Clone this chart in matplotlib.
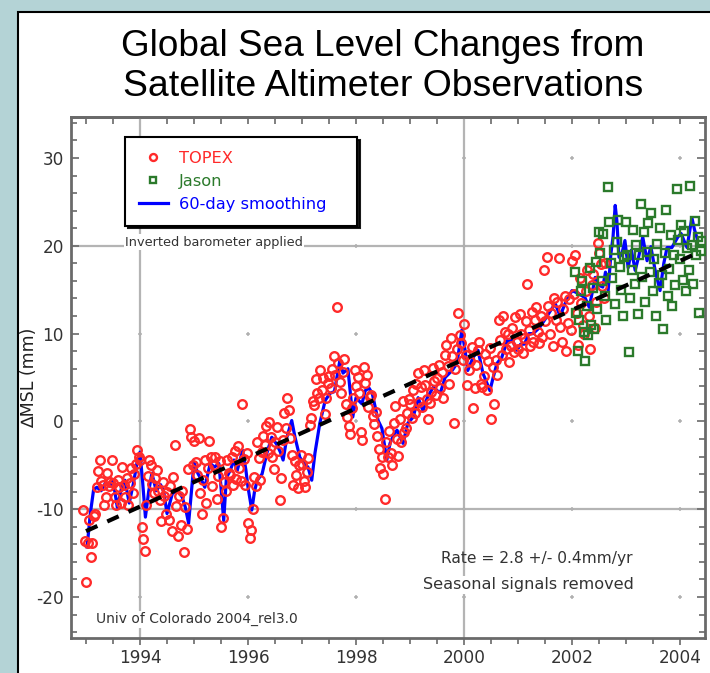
import numpy as np
import matplotlib
matplotlib.use('Agg')
import matplotlib.pyplot as plt
from matplotlib import font_manager
from matplotlib.lines import Line2D
from matplotlib.patches import Rectangle
from matplotlib.ticker import MultipleLocator

plt.rcParams['axes.unicode_minus'] = False

# sampling of the altimeter cycles (about 10 days, in years)
cycle_step = 0.5 / 18
topex_start = 1992.95
jason_start = 2002.05

# TOPEX cycle values (mm), half-year blocks
topex_mm = [
    -10.1, -13.6, -18.3, -13.9, -11.2, -15.5, -13.8, -10.8, -10.5, -7.5,
    -5.6, -4.4, -6.8, -7.2, -9.5, -8.6, -5.9, -7.4, -6.9, -4.4,
    -7.0, -8.6, -9.5, -6.7, -7.5, -9.3, -5.2, -7.3, -8.6, -6.5, -9.5, -7.0, -5.3, -8.1, -6.0, -4.8, -3.3, -4.0,
    -4.4, -12.0, -13.4, -14.8, -9.5, -6.2, -4.4, -5.0, -7.1, -8.2, -6.4, -5.5, -7.9, -9.0, -11.3, -6.9, -8.5, -10.5,
    -8.0, -11.2, -7.4, -12.5, -6.3, -2.7, -9.6, -13.0, -8.5, -11.8, -7.9, -14.9, -9.8, -12.2, -5.4, -0.9, -1.8, -5.0,
    -2.2, -4.6, -6.1, -1.9, -8.1, -10.5, -6.7, -4.4, -9.3, -5.3, -2.2, -4.1, -7.4, -5.0, -4.0, -8.8, -6.2, -4.5,
    -12.0, -11.0, -6.9, -7.9, -4.4, -5.9, -6.1, -4.0, -7.3, -3.4, -6.6, -2.8, -5.3, -6.8, 2.0, -4.3, -7.2, -3.6,
    -11.6, -13.3, -12.4, -10.0, -6.3, -7.4, -2.3, -4.2, -6.7, -3.5, -1.7, -2.7, -0.5, -3.6, -0.1, -1.8, -4.0, -5.4,
    -2.3, -0.6, -3.4, -8.9, -6.5, -2.1, 1.0, -0.7, 2.7, 1.3, -1.9, -3.8, -7.3, -4.5, -6.1, -7.6, -5.0, -3.8,
    -4.9, -6.8, -7.5, -5.8, -4.2, -0.4, 0.4, 2.3, 1.9, 4.8, 3.2, 2.7, 5.9, 3.6, 4.9, 0.8, 2.7, 4.4,
    5.2, 3.8, 6.0, 7.5, 5.3, 13.0, 6.6, 4.5, 3.2, 5.6, 7.1, 2.0, 0.5, -0.5, -1.4, 1.5, 2.7, 5.8,
    4.0, 5.1, 3.2, -1.2, -2.1, 6.2, 4.4, 5.3, 1.6, 2.8, 3.0, 0.6, -0.3, 1.1, -1.7, -3.2, -5.3, -4.0,
    -6.0, -8.8, -2.4, -4.1, -1.1, -3.6, -5.0, -0.2, 1.7, -2.0, -3.9, 0.3, -2.4, 2.3, -1.2, -0.8, 0.9, 2.5,
    2.0, 0.4, 3.6, 1.0, 4.3, 5.5, 2.2, 3.9, 1.6, 5.9, 4.1, 2.6, 0.3, 2.1, 3.3, 6.1, 4.6, 3.0,
    5.0, 6.4, 3.8, 5.6, 2.7, 7.6, 8.7, 6.3, 4.3, 9.5, 7.4, -0.2, 6.0, 8.2, 12.3, 9.8, 8.9, 7.0,
    11.1, 7.6, 4.2, 5.9, 6.9, 8.5, 1.5, 3.8, 6.4, 8.1, 9.0, 4.3, 3.9, 5.2, 7.7, 3.6, 6.9, 8.4,
    0.3, 6.2, 2.0, 7.0, 5.3, 11.5, 9.3, 7.6, 12.0, 10.2, 8.3, 9.9, 6.8, 8.6, 10.6, 7.9, 11.9, 9.1,
    8.2, 12.2, 10.0, 7.8, 9.5, 11.4, 15.7, 10.4, 8.6, 12.5, 9.1, 11.6, 13.0, 10.2, 8.9, 12.0, 9.6, 17.2,
    11.4, 18.7, 13.2, 9.9, 12.4, 8.6, 14.0, 11.5, 13.6, 18.6, 10.8, 9.0, 12.8, 14.3, 8.0, 11.2, 13.9, 10.4,
    18.3, 14.5, 19.0, 12.4, 8.7, 16.3, 13.5, 11.0, 9.9, 14.8, 17.2, 12.0, 8.2, 15.5, 16.8, 10.6, 13.6, 20.3,
    19.2, 17.9, 15.4, 14.0, 18.0,
]

# Jason cycle values (mm)
jason_mm = [
    17.0, 12.4, 8.0, 11.5, 14.8, 16.0, 10.2, 6.9, 13.1, 9.8, 17.5, 11.0, 15.2, 10.5, 18.1, 12.8,
    21.6, 19.2, 16.0, 21.4, 14.3, 11.6, 26.7, 22.7, 18.0, 16.3, 19.5, 13.4, 20.4, 22.9, 17.6, 15.0, 12.0, 18.7,
    22.7, 19.0, 7.9, 14.0, 17.3, 21.8, 15.6, 20.1, 12.2, 18.9, 24.8, 16.4, 21.6, 13.6, 19.3, 22.6, 17.0, 23.7,
    14.9, 18.5, 12.0, 20.2, 15.8, 22.0, 16.7, 10.5, 19.2, 24.1, 14.3, 17.4, 21.2, 13.2, 19.0, 15.5, 26.5, 20.7,
    18.5, 22.4, 16.1, 21.7, 14.8, 19.8, 17.2, 26.8, 20.1, 15.6, 22.8, 18.9, 21.0, 12.4, 19.4, 20.6,
]

# 60-day smoothed series
smooth_year = [
    1993.02, 1993.08, 1993.14, 1993.20, 1993.28, 1993.36, 1993.44, 1993.50, 1993.58, 1993.66,
    1993.72, 1993.80, 1993.88, 1993.95, 1994.00, 1994.05, 1994.10, 1994.16, 1994.22, 1994.30,
    1994.38, 1994.44, 1994.50, 1994.60, 1994.70, 1994.78, 1994.84, 1994.90, 1994.96, 1995.00,
    1995.07, 1995.14, 1995.20, 1995.30, 1995.38, 1995.46, 1995.50, 1995.55, 1995.60, 1995.67,
    1995.74, 1995.80, 1995.90, 1995.96, 1996.00, 1996.07, 1996.12, 1996.17, 1996.26, 1996.35,
    1996.44, 1996.53, 1996.60, 1996.65, 1996.72, 1996.81, 1996.87, 1996.96, 1997.05, 1997.11,
    1997.18, 1997.24, 1997.33, 1997.43, 1997.52, 1997.60, 1997.70, 1997.76, 1997.85, 1997.94,
    1998.00, 1998.11, 1998.17, 1998.24, 1998.30, 1998.41, 1998.48, 1998.57, 1998.63, 1998.70,
    1998.76, 1998.87, 1998.96, 1999.06, 1999.15, 1999.24, 1999.32, 1999.43, 1999.56, 1999.65,
    1999.78, 1999.87, 1999.96, 2000.02, 2000.07, 2000.17, 2000.26, 2000.35, 2000.48, 2000.54,
    2000.61, 2000.70, 2000.80, 2000.90, 2000.98, 2001.05, 2001.12, 2001.20, 2001.28, 2001.40,
    2001.53, 2001.60, 2001.69, 2001.78, 2001.87, 2002.00, 2002.11, 2002.24, 2002.32, 2002.43,
    2002.50, 2002.57, 2002.62, 2002.67, 2002.72, 2002.76, 2002.80, 2002.83, 2002.87, 2002.92,
    2002.98, 2003.04, 2003.10, 2003.17, 2003.24, 2003.31, 2003.39, 2003.46, 2003.54, 2003.63,
    2003.70, 2003.76, 2003.85, 2003.96, 2004.02, 2004.08, 2004.13, 2004.22, 2004.27, 2004.33,
]
smooth_mm = [
    -14.3, -10.5, -7.8, -7.5, -7.9, -7.0, -7.4, -6.7, -9.8, -7.5,
    -6.7, -9.3, -7.0, -4.5, -3.5, -7.0, -10.9, -8.0, -5.9, -7.9,
    -7.2, -8.0, -10.5, -8.2, -7.9, -8.6, -9.8, -11.6, -7.5, -4.7,
    -5.9, -6.7, -7.5, -4.8, -5.2, -4.8, -7.5, -11.3, -6.4, -5.6,
    -4.4, -5.6, -3.3, -5.5, -7.5, -10.1, -8.0, -6.7, -6.0, -3.6,
    -1.8, -2.6, -3.5, -4.4, -1.8, 0.1, -1.8, -4.1, -4.9, -5.2,
    -6.7, -3.6, -0.2, 2.4, 3.2, 3.4, 6.9, 5.5, 6.0, 0.5,
    2.7, 2.0, 3.5, 3.8, 3.2, 0.1, -0.8, -4.4, -2.5, -1.5,
    -1.0, -2.5, -0.2, 0.5, 2.7, 1.2, 2.7, 3.9, 3.2, 5.0,
    5.8, 6.6, 10.4, 8.1, 5.8, 7.3, 8.1, 5.5, 3.5, 5.0,
    6.6, 7.3, 9.2, 9.2, 8.1, 8.8, 8.8, 10.0, 10.0, 10.7,
    11.9, 12.6, 13.4, 12.0, 13.4, 14.9, 14.6, 14.1, 13.0, 16.4,
    15.5, 15.3, 17.0, 14.9, 19.1, 21.0, 24.6, 22.9, 18.7, 19.0,
    20.6, 17.5, 19.5, 17.2, 18.9, 21.0, 18.3, 19.9, 17.2, 14.9,
    18.0, 19.8, 19.8, 21.0, 21.4, 20.5, 19.8, 23.2, 21.8, 20.6,
]

# linear fit, 2.8 mm/yr
trend_year = [1993.0, 2004.4]
trend_mm = [-12.5, 19.4]

year_ticks = [1994, 1996, 1998, 2000, 2002, 2004]
mm_ticks = [-20, -10, 0, 10, 20, 30]
full_grid_years = [1994, 2000]
full_grid_mm = [-10, 20]

topex_year = topex_start + np.arange(len(topex_mm)) * cycle_step
jason_year = jason_start + np.arange(len(jason_mm)) * cycle_step

red = '#ff2a2a'
green = '#2b7a2b'
blue = '#0000ff'
label_grey = '#333333'
axis_grey = '#6a6a6a'

# pick a narrow face if the system has one
names = {f.name for f in font_manager.fontManager.ttflist}
narrow = 'Liberation Sans Narrow' if 'Liberation Sans Narrow' in names else 'DejaVu Sans'

fig = plt.figure(figsize=(7.1, 6.73), dpi=100)
fig.patch.set_facecolor('#b4d3d6')
fig.add_artist(Rectangle((18 / 710, -0.05), 1.0, 1.05 - 12 / 673,
                         transform=fig.transFigure, facecolor='white',
                         edgecolor='black', linewidth=1.5, zorder=-10))


def fit_text(t, width_px):
    # scale the font so the text spans the wanted width
    r = fig.canvas.get_renderer()
    w = t.get_window_extent(r).width
    t.set_fontsize(t.get_fontsize() * width_px / w)


def size_for(s, family, width_px):
    t = fig.text(0, 0, s, family=family, fontsize=10)
    fit_text(t, width_px)
    size = t.get_fontsize()
    t.remove()
    return size


t1 = fig.text(383 / 710, 1 - 46 / 673, 'Global Sea Level Changes from',
              ha='center', va='center', fontsize=26, family='Liberation Sans')
t2 = fig.text(383 / 710, 1 - 87 / 673, 'Satellite Altimeter Observations',
              ha='center', va='center', fontsize=26, family='Liberation Sans')
fit_text(t1, 522)
fit_text(t2, 518)

ax = fig.add_axes([71 / 710, 1 - 638 / 673, 634 / 710, 521 / 673])

# grid: a few full lines, small crosses elsewhere
for yr in full_grid_years:
    ax.axvline(yr, color='#b4b4b4', lw=1.6, zorder=1)
for mm in full_grid_mm:
    ax.axhline(mm, color='#b4b4b4', lw=1.6, zorder=1)
gx, gy = np.meshgrid(year_ticks, mm_ticks)
ax.plot(gx.ravel(), gy.ravel(), '+', color='#b0b0b0', ms=3.5, mew=1.1, zorder=1)

ax.plot(smooth_year, smooth_mm, color=blue, lw=2.3, zorder=2)
ax.plot(topex_year, topex_mm, 'o', mfc='none', mec=red, ms=6.2, mew=1.7, zorder=3)
ax.plot(jason_year, jason_mm, 's', mfc='none', mec=green, ms=5.4, mew=1.7, zorder=3)
ax.plot(trend_year, trend_mm, color='black', lw=3, linestyle=(0, (3, 2.6)), zorder=5)

ax.set_xlim(1992.722, 2004.463)
ax.set_ylim(-24.67, 34.67)
ax.set_xticks(year_ticks)
ax.set_yticks(mm_ticks)
ax.xaxis.set_minor_locator(MultipleLocator(0.5))
ax.yaxis.set_minor_locator(MultipleLocator(2))

for s in ax.spines.values():
    s.set_color(axis_grey)
    s.set_linewidth(2)

ax.tick_params(axis='y', which='both', direction='in', left=True, right=True,
               color=axis_grey, width=1.2, labelcolor=label_grey, pad=5)
ax.tick_params(axis='y', which='major', length=6)
ax.tick_params(axis='y', which='minor', length=4)
ax.tick_params(axis='x', which='both', direction='out', color=axis_grey, width=1.2,
               labelcolor=label_grey, pad=3)
ax.tick_params(axis='x', which='major', length=5)
ax.tick_params(axis='x', which='minor', length=4)

top = ax.secondary_xaxis('top')
top.set_xticks(year_ticks, labels=[])
top.xaxis.set_minor_locator(MultipleLocator(0.5))
top.tick_params(which='both', direction='in', color=axis_grey, width=1.2, length=5)
top.spines['top'].set_color(axis_grey)
top.spines['top'].set_linewidth(2)

tick_size = size_for('1994', narrow, 43)
for lab in ax.get_xticklabels() + ax.get_yticklabels():
    lab.set_family(narrow)
    lab.set_fontsize(tick_size)

ax.set_ylabel('\u2206MSL (mm)', family=narrow, fontsize=size_for('\u2206MSL (mm)', narrow, 100),
              color='#222222')
ax.yaxis.set_label_coords(-0.052, 0.5)

# legend, sized so that "60-day smoothing" spans the same width as in the picture
leg_size = size_for('60-day smoothing', narrow, 147)
handles = [
    Line2D([], [], marker='o', ls='none', mfc='none', mec=red, ms=5, mew=1.7),
    Line2D([], [], marker='s', ls='none', mfc='none', mec=green, ms=4.5, mew=1.7),
    Line2D([], [], color=blue, lw=2.3),
]
leg = ax.legend(handles, ['TOPEX', 'Jason', '60-day smoothing'],
                loc='upper left', bbox_to_anchor=(0.085, 0.791, 0.366, 0.171), mode='expand',
                fancybox=False, shadow={'color': 'black', 'alpha': 0.9}, framealpha=1,
                edgecolor='black', labelcolor=[red, green, blue],
                prop={'family': narrow, 'size': leg_size}, handlelength=1.8,
                handletextpad=0.7, labelspacing=0.5, borderpad=0.85, borderaxespad=0)
leg.get_frame().set_linewidth(1.5)
leg.set_zorder(10)

t_ib = ax.text(0.085, 0.760, 'Inverted barometer applied', transform=ax.transAxes,
               ha='left', va='center', family=narrow, color=label_grey, fontsize=10,
               bbox=dict(facecolor='white', edgecolor='none', pad=1))
t_rate = ax.text(0.886, 0.152, 'Rate = 2.8 +/- 0.4mm/yr', transform=ax.transAxes,
                 ha='right', va='center', family=narrow, color=label_grey, fontsize=11)
t_seas = ax.text(0.888, 0.102, 'Seasonal signals removed', transform=ax.transAxes,
                 ha='right', va='center', family=narrow, color=label_grey, fontsize=11,
                 bbox=dict(facecolor='white', edgecolor='none', pad=1))
t_univ = ax.text(0.039, 0.036, 'Univ of Colorado 2004_rel3.0', transform=ax.transAxes,
                 ha='left', va='center', family=narrow, color=label_grey, fontsize=10,
                 bbox=dict(facecolor='white', edgecolor='none', pad=1))
fit_text(t_ib, 177)
fit_text(t_rate, 192)
fit_text(t_seas, 212)
fit_text(t_univ, 201)

fig.savefig('out.png', dpi=100, facecolor=fig.get_facecolor())
